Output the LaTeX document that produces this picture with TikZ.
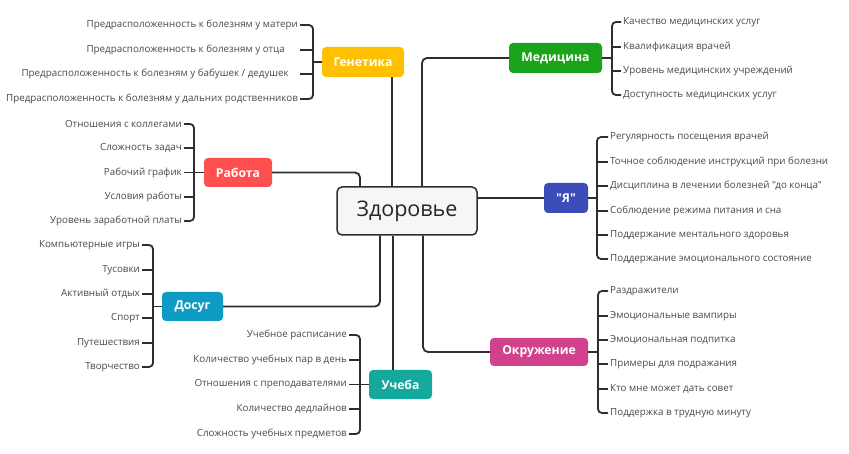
\documentclass[tikz,border=0pt]{standalone}
\usepackage{fontspec}
\setmainfont{Open Sans}[Ligatures=TeXOff]
\usetikzlibrary{calc}
\definecolor{lineC}{HTML}{2E2E2E}
\definecolor{txtC}{HTML}{4A4A4A}
\definecolor{genC}{HTML}{FFC000}
\definecolor{medC}{HTML}{1BA41B}
\definecolor{rabC}{HTML}{FF5050}
\definecolor{yaC}{HTML}{3C4CB8}
\definecolor{dosC}{HTML}{0E9BC4}
\definecolor{uchC}{HTML}{15A89C}
\definecolor{okrC}{HTML}{D2418B}
\definecolor{zdC}{HTML}{F6F6F6}
\begin{document}
\begin{tikzpicture}[x=1pt,y=-1pt,
  conn/.style={draw=lineC, line width=1.8pt, rounded corners=4pt},
  box/.style={rounded corners=4pt, text=white, font=\bfseries\fontsize{12.2}{14}\selectfont, inner sep=0pt, minimum height=30pt},
  li/.style={anchor=east, text=txtC, font=\fontsize{9.8}{11}\selectfont, inner sep=2pt},
  ri/.style={anchor=west, text=txtC, font=\fontsize{9.8}{11}\selectfont, inner sep=2pt}]
\useasboundingbox (0,0) rectangle (849,454);
\fill[white] (0,0) rectangle (849,454);

% central node
\node[draw=lineC, line width=1.5pt, fill=zdC, rounded corners=5pt, minimum width=140pt, minimum height=48pt, inner sep=0pt, font=\fontsize{21.5}{24}\selectfont, text=black!85] (zd) at (407,211) {Здоровье};

% branch boxes
\node[box, fill=genC, minimum width=82pt] (gen) at (363,62) {Генетика};
\node[box, fill=medC, minimum width=93pt] (med) at (555.5,58) {Медицина};
\node[box, fill=rabC, minimum width=68pt, minimum height=29pt] (rab) at (238,172.5) {Работа};
\node[box, fill=yaC, minimum width=44pt] (ya) at (566,198) {"Я"};
\node[box, fill=dosC, minimum width=61pt, minimum height=29pt] (dos) at (192.5,306.5) {Досуг};
\node[box, fill=uchC, minimum width=63pt, minimum height=29pt] (uch) at (400.5,384.5) {Учеба};
\node[box, fill=okrC, minimum width=98pt, minimum height=28pt] (okr) at (539,352) {Окружение};

% connections to centre
\draw[conn, rounded corners=5pt] (rab.east) -| ([xshift=-47pt]zd.north);
\draw[conn] ([xshift=-12pt]gen.south east) -- ([xshift=-12pt]gen.south east |- zd.north);
\draw[conn, rounded corners=5pt] (med.west) -| ([xshift=15pt]zd.north);
\draw[conn] (ya.west) -- (ya.west -| zd.east);
\draw[conn, rounded corners=5pt] (dos.east) -| ([xshift=-27pt]zd.south);
\draw[conn] ([xshift=-7.5pt]uch.north) -- ([xshift=-7.5pt]uch.north |- zd.south);
\draw[conn, rounded corners=5pt] (okr.west) -| ([xshift=16pt]zd.south);

% Генетика
\node[li] (g1) at (300,25) {Предрасположенность к болезням у матери};
\node[li] (g2) at (287,50) {Предрасположенность к болезням у отца};
\node[li] (g3) at (291,74) {Предрасположенность к болезням у бабушек / дедушек};
\node[li] (g4) at (300,99) {Предрасположенность к болезням у дальних родственников};
\coordinate (gB) at (313,62);
\draw[conn] (g1.east) -| (gB) |- (g4.east);
\draw[conn] (g2.east -| g1.east) -- (g2.east -| gB);
\draw[conn] (g3.east -| g1.east) -- (g3.east -| gB);
\draw[conn] (gen.west) -- (gB);

% Медицина
\node[ri] (m1) at (621,22) {Качество медицинских услуг};
\node[ri] (m2) at (621,47) {Квалификация врачей};
\node[ri] (m3) at (621,71) {Уровень медицинских учреждений};
\node[ri] (m4) at (621,95) {Доступность медицинских услуг};
\coordinate (mB) at (612,58);
\draw[conn] (m1.west) -| (mB) |- (m4.west);
\draw[conn] (m2.west) -- (m2.west -| mB);
\draw[conn] (m3.west) -- (m3.west -| mB);
\draw[conn] (med.east) -- (mB);

% Работа
\node[li] (r1) at (184,124) {Отношения с коллегами};
\node[li] (r2) at (184,148) {Сложность задач};
\node[li] (r3) at (184,172.5) {Рабочий график};
\node[li] (r4) at (184,197) {Условия работы};
\node[li] (r5) at (184,221) {Уровень заработной платы};
\coordinate (rB) at (194,172.5);
\draw[conn] (r1.east) -| (rB) |- (r5.east);
\draw[conn] (r2.east) -- (r2.east -| rB);
\draw[conn] (r3.east) -- (r3.east -| rB);
\draw[conn] (r4.east) -- (r4.east -| rB);
\draw[conn] (rab.west) -- (rB);

% "Я"
\node[ri] (y1) at (608,137) {Регулярность посещения врачей};
\node[ri] (y2) at (608,162) {Точное соблюдение инструкций при болезни};
\node[ri] (y3) at (608,186) {Дисциплина в лечении болезней "до конца"};
\node[ri] (y4) at (608,211) {Соблюдение режима питания и сна};
\node[ri] (y5) at (608,235) {Поддержание ментального здоровья};
\node[ri] (y6) at (608,259) {Поддержание эмоционального состояние};
\coordinate (yB) at (597,198);
\draw[conn] (y1.west) -| (yB) |- (y6.west);
\draw[conn] (y2.west) -- (y2.west -| yB);
\draw[conn] (y3.west) -- (y3.west -| yB);
\draw[conn] (y4.west) -- (y4.west -| yB);
\draw[conn] (y5.west) -- (y5.west -| yB);
\draw[conn] (ya.east) -- (yB);

% Досуг
\node[li] (d1) at (142,245) {Компьютерные игры};
\node[li] (d2) at (142,270) {Тусовки};
\node[li] (d3) at (142,294) {Активный отдых};
\node[li] (d4) at (142,318) {Спорт};
\node[li] (d5) at (142,343) {Путешествия};
\node[li] (d6) at (142,367) {Творчество};
\coordinate (dB) at (153,306.5);
\draw[conn] (d1.east) -| (dB) |- (d6.east);
\draw[conn] (d2.east) -- (d2.east -| dB);
\draw[conn] (d3.east) -- (d3.east -| dB);
\draw[conn] (d4.east) -- (d4.east -| dB);
\draw[conn] (d5.east) -- (d5.east -| dB);
\draw[conn] (dos.west) -- (dB);

% Учеба
\node[li] (u1) at (349,335) {Учебное расписание};
\node[li] (u2) at (349,360) {Количество учебных пар в день};
\node[li] (u3) at (349,384.5) {Отношения с преподавателями};
\node[li] (u4) at (349,409) {Количество дедлайнов};
\node[li] (u5) at (349,434) {Сложность учебных предметов};
\coordinate (uB) at (360,384.5);
\draw[conn] (u1.east) -| (uB) |- (u5.east);
\draw[conn] (u2.east) -- (u2.east -| uB);
\draw[conn] (u3.east) -- (u3.east -| uB);
\draw[conn] (u4.east) -- (u4.east -| uB);
\draw[conn] (uch.west) -- (uB);

% Окружение
\node[ri] (o1) at (608,291) {Раздражители};
\node[ri] (o2) at (608,316) {Эмоциональные вампиры};
\node[ri] (o3) at (608,340) {Эмоциональная подпитка};
\node[ri] (o4) at (608,364) {Примеры для подражания};
\node[ri] (o5) at (608,389) {Кто мне может дать совет};
\node[ri] (o6) at (608,413) {Поддержка в трудную минуту};
\coordinate (oB) at (598,352);
\draw[conn] (o1.west) -| (oB) |- (o6.west);
\draw[conn] (o2.west) -- (o2.west -| oB);
\draw[conn] (o3.west) -- (o3.west -| oB);
\draw[conn] (o4.west) -- (o4.west -| oB);
\draw[conn] (o5.west) -- (o5.west -| oB);
\draw[conn] (okr.east) -- (oB);
\end{tikzpicture}
\end{document}
